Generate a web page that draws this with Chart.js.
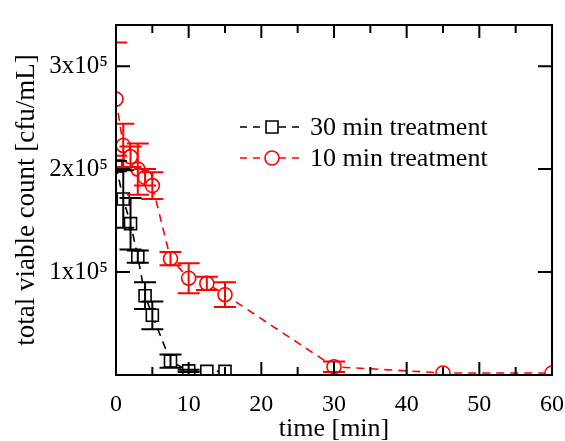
<!DOCTYPE html>
<html><head><meta charset="utf-8">
<script src="https://cdn.jsdelivr.net/npm/chart.js@4.4.1/dist/chart.umd.min.js"></script>
<style>html,body{margin:0;padding:0;background:#fff;}#wrap{width:565px;height:441px;position:relative;}</style>
</head><body><div id="wrap"><canvas id="c" width="565" height="441" style="width:565px;height:441px;"></canvas></div>
<script>
// ---- data ----
const seriesNames = ['30 min treatment', '10 min treatment'];
const timeBlack  = [0, 1, 2, 3, 4, 5, 7.5, 10, 12.5, 15];
const countBlack = [203000, 171000, 147000, 115000, 77000, 58000, 13500, 4000, 3500, 3500];
const errBlack   = [5000, 28000, 25000, 6000, 13000, 13500, 6500, 1000, 0, 0];
const timeRed    = [0, 1, 2, 3, 4, 5, 7.5, 10, 12.5, 15, 30, 45, 60];
const countRed   = [268000, 223000, 212000, 200000, 192000, 184000, 113000, 94000, 89000, 78000, 8000, 2000, 2000];
const errRed     = [55000, 21000, 10000, 25000, 8000, 13000, 6500, 14500, 6500, 12000, 5000, 0, 0];
const xTickValues = [0, 10, 20, 30, 40, 50, 60];
const xMinorTickValues = [5, 15, 25, 35, 45, 55];
const yTickValues = [100000, 200000, 300000];
const yTickLabels = ['1x10⁵', '2x10⁵', '3x10⁵'];
const xMin = 0, xMax = 60;
const yMin = 0, yMax = 340000;

const FONT = 'Liberation Serif, "Times New Roman", serif';
const RED = '#ff0000', BLACK = '#000000';

function toXY(ts, vs){ return ts.map((t,i)=>({x:t, y:vs[i]})); }

const series = [
  {name: seriesNames[0], t: timeBlack, v: countBlack, e: errBlack, color: BLACK, style: 'rect', r: 8.5},
  {name: seriesNames[1], t: timeRed, v: countRed, e: errRed, color: RED, style: 'circle', r: 7}
];

const framePlugin = {
  id: 'frame',
  afterDatasetsDraw(chart){
    const {ctx, chartArea: a, scales: {x, y}} = chart;
    ctx.save();
    ctx.beginPath(); ctx.rect(a.left, a.top, a.right - a.left, a.bottom - a.top); ctx.clip();
    ctx.lineWidth = 2;
    series.slice().reverse().forEach(s => {
      ctx.strokeStyle = s.color;
      s.t.forEach((t, i) => {
        if (!s.e[i]) return;
        const px = x.getPixelForValue(t);
        const yt = y.getPixelForValue(s.v[i] + s.e[i]);
        const yb = y.getPixelForValue(s.v[i] - s.e[i]);
        const hw = 11;
        ctx.beginPath();
        ctx.moveTo(px, yt); ctx.lineTo(px, yb);
        ctx.moveTo(px - hw, yt); ctx.lineTo(px + hw, yt);
        ctx.moveTo(px - hw, yb); ctx.lineTo(px + hw, yb);
        ctx.stroke();
      });
    });
    ctx.restore();
  },
  afterDraw(chart){
    const {ctx, chartArea: a, scales: {x, y}} = chart;
    ctx.save();
    ctx.strokeStyle = '#000';
    ctx.lineWidth = 2;
    ctx.strokeRect(a.left, a.top, a.right - a.left, a.bottom - a.top);
    ctx.beginPath();
    x.ticks.forEach(tk => {
      if (tk.value <= xMin || tk.value >= xMax) return;
      const px = x.getPixelForValue(tk.value);
      ctx.moveTo(px, a.bottom); ctx.lineTo(px, a.bottom - 13);
      ctx.moveTo(px, a.top); ctx.lineTo(px, a.top + 13);
    });
    xMinorTickValues.forEach(v => {
      const px = x.getPixelForValue(v);
      ctx.moveTo(px, a.bottom); ctx.lineTo(px, a.bottom - 8);
      ctx.moveTo(px, a.top); ctx.lineTo(px, a.top + 8);
    });
    y.ticks.forEach(tk => {
      const py = y.getPixelForValue(tk.value);
      ctx.moveTo(a.left, py); ctx.lineTo(a.left + 14, py);
      ctx.moveTo(a.right, py); ctx.lineTo(a.right - 14, py);
    });
    ctx.stroke();

    // legend
    const rows = [127, 158];
    series.forEach((s, i) => {
      const ly = rows[i];
      ctx.strokeStyle = s.color;
      ctx.lineWidth = 1.6;
      ctx.setLineDash([7, 6]);
      ctx.beginPath(); ctx.moveTo(240, ly); ctx.lineTo(304, ly); ctx.stroke();
      ctx.setLineDash([]);
      ctx.fillStyle = '#fff';
      ctx.beginPath();
      if (s.style === 'rect') { const h = 6; ctx.rect(272 - h, ly - h, 2*h, 2*h); }
      else { ctx.arc(272, ly, 7, 0, Math.PI*2); }
      ctx.fill(); ctx.stroke();
      ctx.fillStyle = '#000';
      ctx.font = '26px ' + FONT;
      ctx.textBaseline = 'alphabetic';
      ctx.textAlign = 'left';
      ctx.fillText(s.name, 310, ly + 8);
    });
    ctx.restore();
  }
};

new Chart(document.getElementById('c'), {
  type: 'line',
  data: {
    datasets: series.map(s => ({
      label: s.name,
      data: toXY(s.t, s.v),
      borderColor: s.color,
      backgroundColor: '#fff',
      borderWidth: 1.6,
      borderDash: [8, 6],
      pointStyle: s.style,
      pointRadius: s.r,
      pointBorderWidth: 1.6,
      pointBorderColor: s.color,
      pointBackgroundColor: '#fff',
      tension: 0,
      fill: false
    }))
  },
  options: {
    responsive: false,
    animation: false,
    devicePixelRatio: 1,
    layout: {padding: {top: 25, right: 13, left: 0, bottom: 0}},
    plugins: {legend: {display: false}, tooltip: {enabled: false}},
    scales: {
      x: {
        type: 'linear', min: xMin, max: xMax,
        grid: {display: false, drawTicks: false},
        border: {display: false},
        afterBuildTicks(s){ s.ticks = xTickValues.map(v => ({value: v})); },
        ticks: {autoSkip: false, maxRotation: 0, padding: 15,
                color: '#000', font: {family: FONT, size: 24},
                callback: v => String(v)},
        title: {display: true, text: 'time [min]', color: '#000',
                font: {family: FONT, size: 26, lineHeight: 0.9}, padding: {top: 0, bottom: 0}},
        afterFit(s){ s.height = 66; s.paddingLeft = 0; s.paddingRight = 0; }
      },
      y: {
        type: 'linear', min: yMin, max: yMax,
        grid: {display: false, drawTicks: false},
        border: {display: false},
        afterBuildTicks(s){ s.ticks = yTickValues.map(v => ({value: v})); },
        ticks: {autoSkip: false, padding: 8, color: '#000',
                font: {family: FONT, size: 25},
                callback: (v, i) => yTickLabels[i]},
        title: {display: true, text: 'total viable count [cfu/mL]', color: '#000',
                font: {family: FONT, size: 27, lineHeight: 1.2}, padding: {top: 11, bottom: 0}},
        afterFit(s){ s.width = 116; s.paddingTop = 0; s.paddingBottom = 0; }
      }
    }
  },
  plugins: [framePlugin]
});
</script></body></html>
